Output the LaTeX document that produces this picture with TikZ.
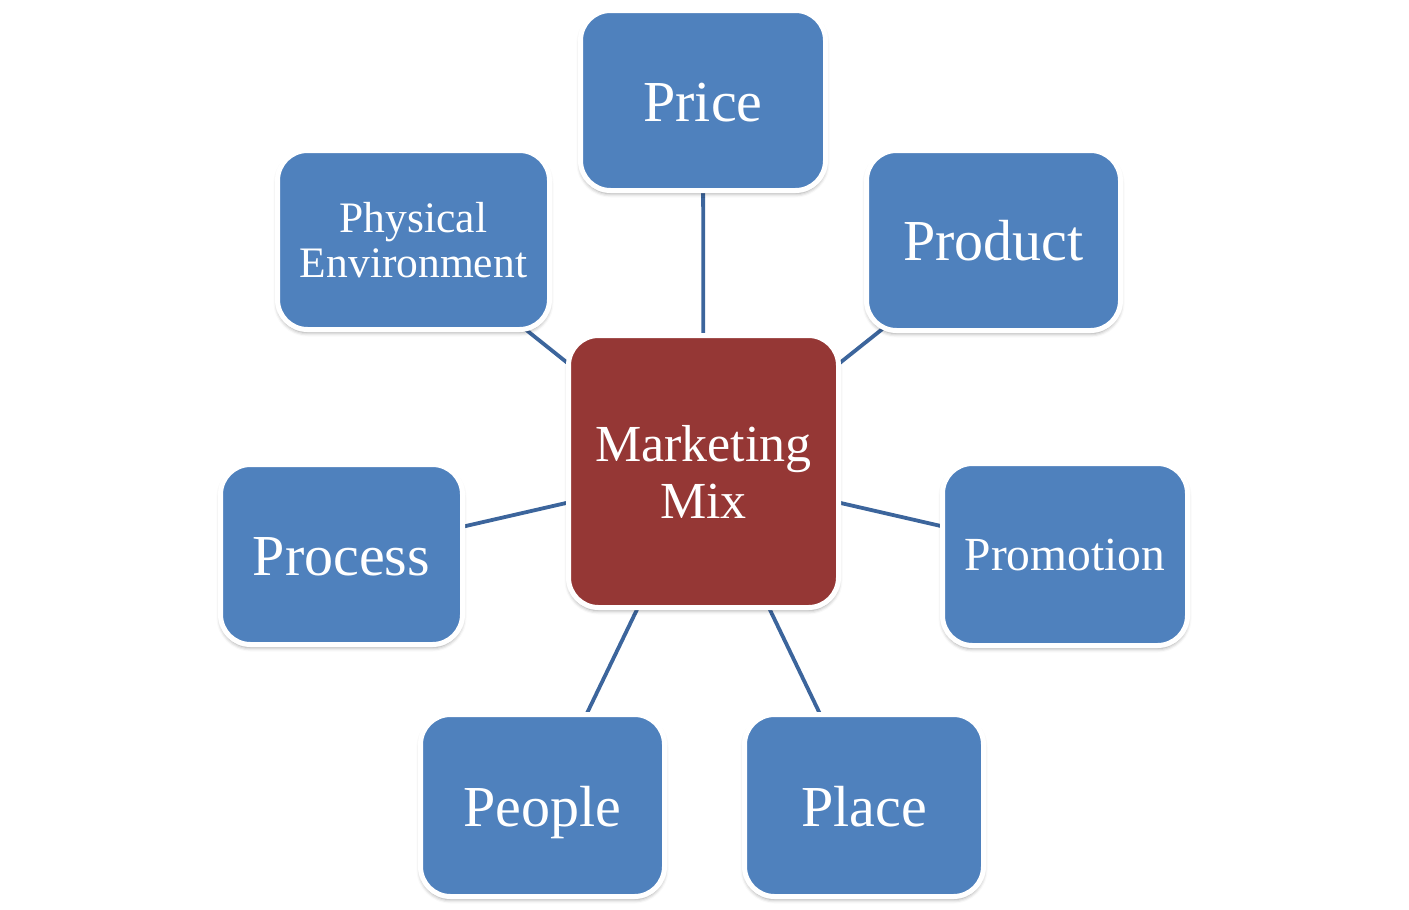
\documentclass[tikz,border=0pt]{standalone}
\usepackage{fontspec}
\setmainfont{Liberation Serif}
\usetikzlibrary{shadows.blur,backgrounds}
\definecolor{boxblue}{HTML}{4F81BD}
\definecolor{boxred}{HTML}{953735}
\definecolor{linkblue}{HTML}{3C659C}
\tikzset{
  card/.style={rectangle, rounded corners=30pt, draw=white, line width=5pt,
    text=white, inner sep=0pt, align=center,
    blur shadow={shadow xshift=0pt, shadow yshift=-3pt, shadow blur radius=4pt, shadow opacity=40}},
  bluecard/.style={card, fill=boxblue},
  redcard/.style={card, fill=boxred},
  link/.style={draw=linkblue, line width=3.8pt},
  bigtext/.style={font=\fontsize{58}{62}\selectfont, text height=42pt, text depth=0pt}
}
\begin{document}
\begin{tikzpicture}[x=1pt,y=-1pt]
\useasboundingbox (0,0) rectangle (1409,910);
\node[redcard, minimum width=270pt, minimum height=272pt, font=\fontsize{52}{57}\selectfont] (mm) at (703.5,471.5) {Marketing\\Mix};
\node[bluecard, bigtext, minimum width=245pt, minimum height=180pt] (price) at (703,100.5) {Price};
\node[bluecard, bigtext, text height=40pt, minimum width=254pt, minimum height=180pt] (product) at (993.5,240.5) {Product};
\node[bluecard, minimum width=272pt, minimum height=179pt, font=\fontsize{43.5}{45}\selectfont] (phys) at (413.5,240) {Physical\\Environment};
\node[bluecard, bigtext, minimum width=242pt, minimum height=180pt] (process) at (341.5,554.5) {Process};
\node[bluecard, minimum width=245pt, minimum height=182pt, font=\fontsize{47.5}{50}\selectfont, text height=31pt, text depth=0pt] (promo) at (1065,554.5) {Promotion};
\node[bluecard, bigtext, minimum width=244pt, minimum height=182pt] (people) at (542.5,805.5) {People};
\node[bluecard, bigtext, minimum width=239pt, minimum height=182pt] (place) at (864,805.5) {Place};
\begin{scope}[on background layer]
\draw[link] (mm.center) -- (price.center);
\draw[link] (mm.center) -- (product.center);
\draw[link] (mm.center) -- (phys.center);
\draw[link] (mm.center) -- (process.center);
\draw[link] (mm.center) -- (promo.center);
\draw[link] (mm.center) -- (people.center);
\draw[link] (mm.center) -- (place.center);
\end{scope}
\end{tikzpicture}
\end{document}
